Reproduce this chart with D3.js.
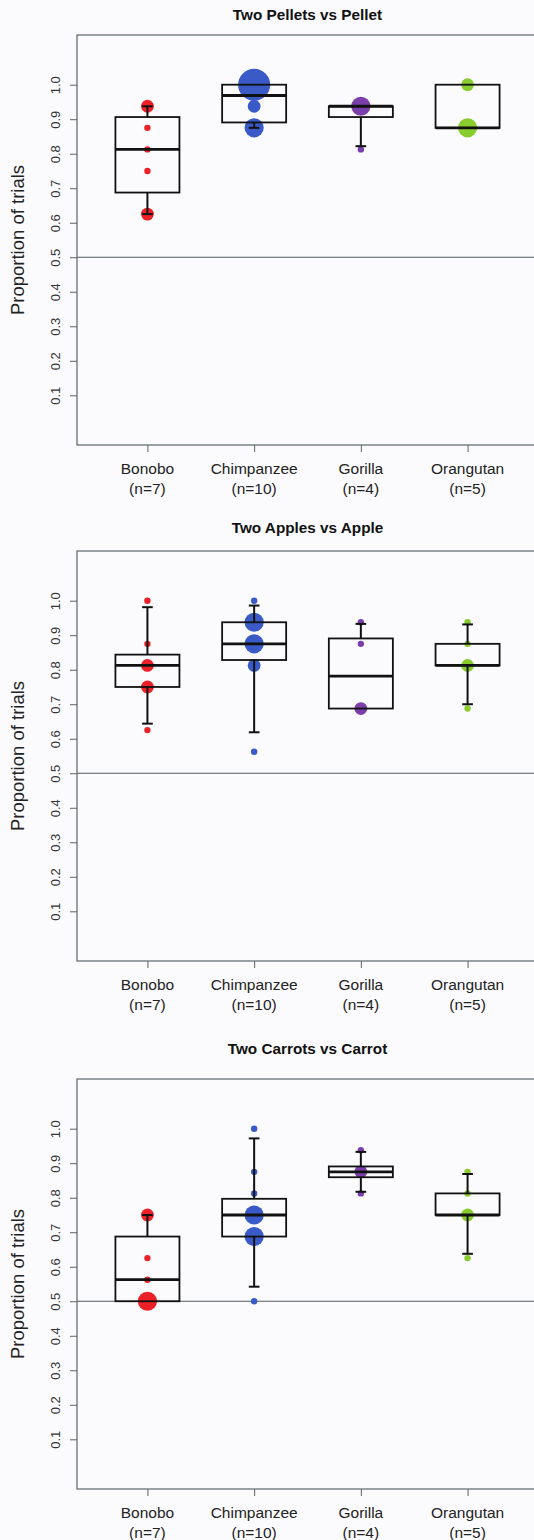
<!DOCTYPE html>
<html>
<head>
<meta charset="utf-8">
<script src="https://cdn.jsdelivr.net/npm/d3@7"></script>
<style>
  html, body { margin: 0; padding: 0; background: #fbfbfd; }
  svg { display: block; font-family: "Liberation Sans", Arial, sans-serif; }
</style>
</head>
<body>
<div id="chart"></div>
<script>
// individual proportions of trials choosing the larger amount, per species
const species = ["Bonobo", "Chimpanzee", "Gorilla", "Orangutan"];
const sampleSizes = [7, 10, 4, 5];
const speciesColors = ["#ec2027", "#3a5bc7", "#7b3fab", "#88cc2e"];
const panelTitles = ["Two Pellets vs Pellet", "Two Apples vs Apple", "Two Carrots vs Carrot"];
const yTicks = [0.1, 0.2, 0.3, 0.4, 0.5, 0.6, 0.7, 0.8, 0.9, 1.0];

const pellets = [
    [0.625, 0.625, 0.75, 0.8125, 0.875, 0.9375, 0.9375],
    [0.875, 0.875, 0.875, 0.9375, 0.9375, 1, 1, 1, 1, 1],
    [0.8125, 0.9375, 0.9375, 0.9375],
    [0.875, 0.875, 0.875, 1, 1]
];
const apples = [
    [0.625, 0.75, 0.75, 0.8125, 0.8125, 0.875, 1],
    [0.5625, 0.8125, 0.8125, 0.875, 0.875, 0.875, 0.9375, 0.9375, 0.9375, 1],
    [0.6875, 0.6875, 0.875, 0.9375],
    [0.6875, 0.8125, 0.8125, 0.875, 0.9375]
];
const carrots = [
    [0.5, 0.5, 0.5, 0.5625, 0.625, 0.75, 0.75],
    [0.5, 0.6875, 0.6875, 0.6875, 0.75, 0.75, 0.75, 0.8125, 0.875, 1],
    [0.8125, 0.875, 0.875, 0.9375],
    [0.625, 0.75, 0.75, 0.8125, 0.875]
];

const panels = [pellets, apples, carrots];
// layout of the three stacked plots
const panelTops = [35, 551, 1079];
const titleOffsets = [20, 23, 30];

const W = 534, H = 1540;
const plotLeft = 77, plotRight = 538, plotHeight = 410;
const frameColor = "#5b6468";

const svg = d3.select("#chart").append("svg")
    .attr("width", W)
    .attr("height", H);

svg.append("rect").attr("width", W).attr("height", H).attr("fill", "#fbfbfd");

// R-style axis padding: xlim c(0.5, 4.5), ylim c(0, 1.1), each widened by 4%
const x = d3.scaleLinear().domain([0.34, 4.66]).range([plotLeft, plotRight]);

panels.forEach((panel, pi) => {
    const top = panelTops[pi];
    const y = d3.scaleLinear().domain([-0.044, 1.144]).range([top + plotHeight, top]);
    const g = svg.append("g");

    g.append("text")
        .attr("x", (plotLeft + plotRight) / 2)
        .attr("y", top - titleOffsets[pi])
        .attr("dy", "0.35em")
        .attr("text-anchor", "middle")
        .attr("font-weight", "bold")
        .attr("font-size", 15.3)
        .attr("fill", "#111")
        .text(panelTitles[pi]);

    // reference line at chance
    g.append("line")
        .attr("x1", plotLeft).attr("x2", plotRight)
        .attr("y1", y(0.5)).attr("y2", y(0.5))
        .attr("stroke", "#555b5e").attr("stroke-width", 1.1);

    // y axis
    const yAxis = g.append("g")
        .attr("transform", `translate(${plotLeft},0)`)
        .call(d3.axisLeft(y).tickValues(yTicks).tickSize(7).tickFormat(d3.format(".1f")));
    yAxis.select(".domain").remove();
    yAxis.selectAll(".tick line").attr("stroke", frameColor);
    yAxis.selectAll(".tick text")
        .attr("transform", "rotate(-90)")
        .attr("x", 0).attr("y", -22)
        .attr("dy", "0.35em")
        .attr("text-anchor", "middle")
        .attr("font-size", 13)
        .attr("fill", "#333");

    g.append("text")
        .attr("transform", `translate(18,${top + plotHeight / 2}) rotate(-90)`)
        .attr("text-anchor", "middle")
        .attr("dy", "0.35em")
        .attr("font-size", 18.5)
        .attr("fill", "#222")
        .text("Proportion of trials");

    // x axis
    const xAxis = g.append("g")
        .attr("transform", `translate(0,${top + plotHeight})`)
        .call(d3.axisBottom(x).tickValues([1, 2, 3, 4]).tickSize(7).tickFormat(""));
    xAxis.select(".domain").remove();
    xAxis.selectAll(".tick line").attr("stroke", frameColor);

    species.forEach((sp, i) => {
        const lbl = g.append("text")
            .attr("x", x(i + 1))
            .attr("text-anchor", "middle")
            .attr("font-size", 15.5)
            .attr("fill", "#222");
        lbl.append("tspan").attr("x", x(i + 1)).attr("y", top + plotHeight + 29).text(sp);
        lbl.append("tspan").attr("x", x(i + 1)).attr("y", top + plotHeight + 49).text(`(n=${sampleSizes[i]})`);
    });

    // points sized by the number of individuals with that score
    panel.forEach((vals, i) => {
        const counts = d3.rollups(vals, v => v.length, d => d);
        g.selectAll(null)
            .data(counts.sort((a, b) => b[1] - a[1]))
            .join("circle")
            .attr("cx", x(i + 1))
            .attr("cy", d => y(d[0]))
            .attr("r", d => 3.2 * d[1])
            .attr("fill", speciesColors[i]);
    });

    // boxes: quartiles, median, whiskers at 2.5% / 97.5%
    panel.forEach((vals, i) => {
        const s = vals.slice().sort(d3.ascending);
        const q1 = d3.quantileSorted(s, 0.25);
        const med = d3.quantileSorted(s, 0.5);
        const q3 = d3.quantileSorted(s, 0.75);
        const lo = d3.quantileSorted(s, 0.025);
        const hi = d3.quantileSorted(s, 0.975);
        const cx = x(i + 1);
        const bw = x(1.3) - x(1);
        const cw = x(1.05) - x(1);
        const b = g.append("g").attr("stroke", "#111").attr("fill", "none");

        if (hi > q3) {
            b.append("line").attr("x1", cx).attr("x2", cx).attr("y1", y(q3)).attr("y2", y(hi)).attr("stroke-width", 2);
            b.append("line").attr("x1", cx - cw).attr("x2", cx + cw).attr("y1", y(hi)).attr("y2", y(hi)).attr("stroke-width", 2);
        }
        if (lo < q1) {
            b.append("line").attr("x1", cx).attr("x2", cx).attr("y1", y(q1)).attr("y2", y(lo)).attr("stroke-width", 2);
            b.append("line").attr("x1", cx - cw).attr("x2", cx + cw).attr("y1", y(lo)).attr("y2", y(lo)).attr("stroke-width", 2);
        }
        b.append("rect")
            .attr("x", cx - bw).attr("width", 2 * bw)
            .attr("y", y(q3)).attr("height", Math.max(0, y(q1) - y(q3)))
            .attr("stroke-width", 1.8);
        b.append("line")
            .attr("x1", cx - bw).attr("x2", cx + bw)
            .attr("y1", y(med)).attr("y2", y(med))
            .attr("stroke-width", 2.8);
    });

    // frame
    g.append("rect")
        .attr("x", plotLeft).attr("y", top)
        .attr("width", plotRight - plotLeft).attr("height", plotHeight)
        .attr("fill", "none")
        .attr("stroke", frameColor)
        .attr("stroke-width", 1.2);
});
</script>
</body>
</html>
